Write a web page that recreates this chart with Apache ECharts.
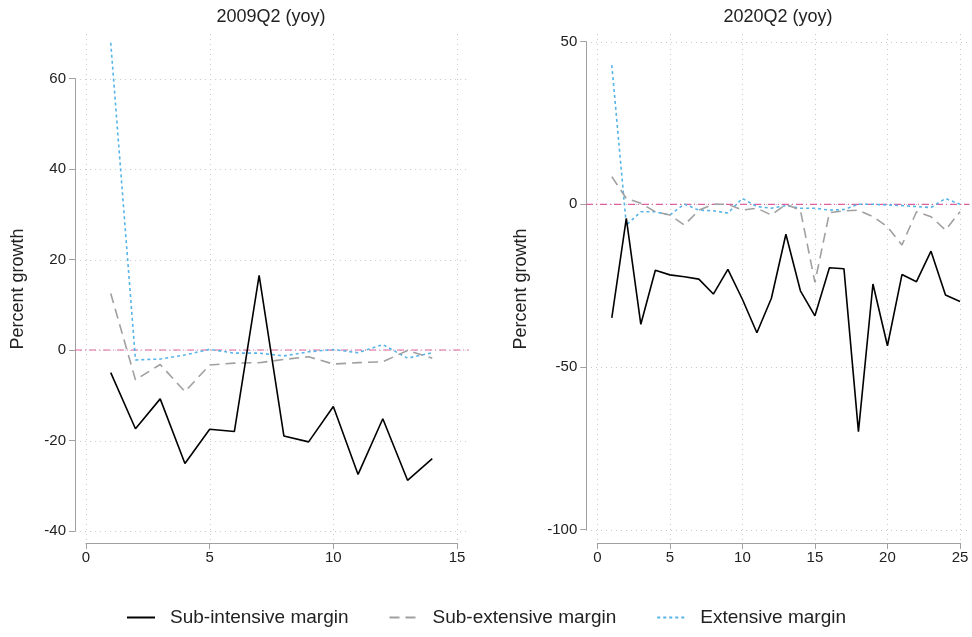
<!DOCTYPE html>
<html><head><meta charset="utf-8">
<script src="https://cdn.jsdelivr.net/npm/echarts@6/dist/echarts.min.js"></script>
<style>html,body{margin:0;padding:0;background:#fff}#c{width:972px;height:637px}</style>
</head><body><div id="c"></div>
<script>
// ---- data ----
const seriesNames = ['Sub-intensive margin', 'Sub-extensive margin', 'Extensive margin'];
const panelTitles = ['2009Q2 (yoy)', '2020Q2 (yoy)'];
const yAxisName = 'Percent growth';

const x2009 = [1,2,3,4,5,6,7,8,9,10,11,12,13,14];
const intensive2009 = [-5.0,-17.4,-10.8,-25.1,-17.5,-18.0,16.5,-19.0,-20.3,-12.5,-27.5,-15.2,-28.8,-24.0];
const subExtensive2009 = [12.5,-6.6,-3.2,-9.2,-3.3,-2.9,-2.8,-2.1,-1.5,-3.1,-2.8,-2.6,-0.1,-1.8];
const extensive2009 = [67.9,-2.2,-2.0,-1.1,0.15,-0.7,-0.7,-1.3,-0.4,0.1,-0.6,1.2,-1.8,-0.6];

const x2020 = [1,2,3,4,5,6,7,8,9,10,11,12,13,14,15,16,17,18,19,20,21,22,23,24,25];
const intensive2020 = [-34.9,-4.3,-36.9,-20.3,-21.7,-22.3,-23.0,-27.6,-20.0,-29.2,-39.5,-28.9,-9.2,-26.6,-34.3,-19.5,-19.8,-69.9,-24.5,-43.5,-21.6,-23.8,-14.4,-27.9,-29.9];
const subExtensive2020 = [8.5,1.8,0.3,-2.3,-3.3,-6.4,-1.8,0.0,0.0,-1.8,-1.2,-3.3,0.0,-1.8,-24.0,-2.6,-2.0,-1.8,-3.8,-6.9,-12.5,-2.3,-3.8,-7.9,-2.3];
const extensive2020 = [42.8,-6.4,-2.3,-2.3,-3.3,0.1,-1.8,-2.0,-2.7,1.8,-0.7,-1.2,-0.4,-1.2,-1.2,-1.8,-1.6,0.0,0.0,-0.2,-0.4,-0.7,-1.0,1.8,0.0];

const yTicks2009 = {min:-40, max:60, interval:20};
const yTicks2020 = {min:-100, max:50, interval:50};
const xTicks2009 = {min:0, max:15, interval:5};
const xTicks2020 = {min:0, max:25, interval:5};

// ---- styles ----
const FONT = '"Liberation Sans", Arial, Helvetica, sans-serif';
const axisGray = '#a0a0a0';
const gridColor = '#c8c8c8';
const colors = ['#000000', '#a0a0a0', '#56b4e9'];
const dashes = ['solid', [10, 6], [3, 3]];
const zeroColor = '#e0609e';
// plot-region extent beyond the axis ranges (in data units), per panel
const regionPad = [
  {x0: -0.44, x1: 15.48, y0: -42.0, y1: 70.05},
  {x0: -0.78, x1: 25.65, y0: -103.2, y1: 52.7}
];
const panelTicks = [[xTicks2009, yTicks2009], [xTicks2020, yTicks2020]];

const pair = (xs, ys) => xs.map((x, i) => [x, ys[i]]);
const ticksOf = t => { const a = []; for (let v = t.min; v <= t.max + 1e-9; v += t.interval) a.push(v); return a; };

function xAxisOf(idx, t, offset) {
  return {
    type: 'value', gridIndex: idx, min: t.min, max: t.max, interval: t.interval,
    offset: offset,
    axisLine: {show: true, onZero: false, lineStyle: {color: axisGray, width: 1}},
    axisTick: {show: true, length: 6, lineStyle: {color: axisGray}},
    axisLabel: {color: '#222', fontSize: 15, fontFamily: FONT, margin: 7},
    splitLine: {show: false}
  };
}
function yAxisOf(idx, t) {
  return {
    type: 'value', gridIndex: idx, min: t.min, max: t.max, interval: t.interval,
    offset: 11,
    axisLine: {show: true, onZero: false, lineStyle: {color: axisGray, width: 1}},
    axisTick: {show: true, length: 6, lineStyle: {color: axisGray}},
    axisLabel: {color: '#222', fontSize: 15, fontFamily: FONT, margin: 9},
    splitLine: {show: false}
  };
}
function lineSeries(k, idx, data) {
  return {
    name: seriesNames[k], type: 'line', xAxisIndex: idx, yAxisIndex: idx,
    data: data, symbol: 'none', showSymbol: false, animation: false, clip: false,
    lineStyle: {color: colors[k], width: 1.6, type: dashes[k]},
    itemStyle: {color: colors[k]},
    z: 5 - k
  };
}

const chart = echarts.init(document.getElementById('c'), null, {renderer: 'canvas'});
const baseGraphics = [
  {type: 'text', x: 18, y: 289, rotation: Math.PI / 2, z: 10,
   style: {text: yAxisName, fontSize: 18, fontFamily: FONT, fill: '#222', align: 'center', verticalAlign: 'middle'}},
  {type: 'text', x: 521, y: 289, rotation: Math.PI / 2, z: 10,
   style: {text: yAxisName, fontSize: 18, fontFamily: FONT, fill: '#222', align: 'center', verticalAlign: 'middle'}}
];
chart.setOption({
  backgroundColor: '#fff',
  animation: false,
  title: [
    {text: panelTitles[0], left: 266, top: 3, textAlign: 'center',
     textStyle: {fontSize: 18, fontWeight: 'normal', color: '#222', fontFamily: FONT}},
    {text: panelTitles[1], left: 773, top: 3, textAlign: 'center',
     textStyle: {fontSize: 18, fontWeight: 'normal', color: '#222', fontFamily: FONT}}
  ],
  graphic: baseGraphics,
  grid: [
    {left: 86, right: 515, top: 78.5, bottom: 106},
    {left: 597.3, right: 12, top: 41.7, bottom: 107.5}
  ],
  xAxis: [xAxisOf(0, xTicks2009, 12), xAxisOf(1, xTicks2020, 13.5)],
  yAxis: [yAxisOf(0, yTicks2009), yAxisOf(1, yTicks2020)],
  legend: {
    bottom: 5, left: 'center', itemWidth: 28, itemHeight: 12, itemGap: 40,
    data: seriesNames,
    itemStyle: {opacity: 0},
    textStyle: {fontSize: 19, color: '#222', fontFamily: FONT, padding: [0, 0, 0, 10]}
  },
  series: [
    lineSeries(0, 0, pair(x2009, intensive2009)),
    lineSeries(1, 0, pair(x2009, subExtensive2009)),
    lineSeries(2, 0, pair(x2009, extensive2009)),
    lineSeries(0, 1, pair(x2020, intensive2020)),
    lineSeries(1, 1, pair(x2020, subExtensive2020)),
    lineSeries(2, 1, pair(x2020, extensive2020))
  ]
});

// gridlines + zero reference line across the full plot region, placed via the chart's own scales
const extra = [];
panelTicks.forEach(([xt, yt], gi) => {
  const p = regionPad[gi];
  const px = (x, y) => chart.convertToPixel({gridIndex: gi}, [x, y]);
  const gridStyle = {stroke: gridColor, lineWidth: 1, lineDash: [1, 4]};
  ticksOf(xt).forEach(v => {
    const a = px(v, p.y0), b = px(v, p.y1);
    extra.push({type: 'line', z: 0, silent: true, shape: {x1: Math.round(a[0]) + 0.5, y1: a[1], x2: Math.round(b[0]) + 0.5, y2: b[1]}, style: gridStyle});
  });
  ticksOf(yt).forEach(v => {
    const a = px(p.x0, v), b = px(p.x1, v);
    extra.push({type: 'line', z: 0, silent: true, shape: {x1: a[0], y1: Math.round(a[1]) + 0.5, x2: b[0], y2: Math.round(b[1]) + 0.5}, style: gridStyle});
  });
  const a = px(p.x0, 0), b = px(p.x1, 0);
  extra.push({type: 'line', z: 1, silent: true, shape: {x1: a[0], y1: a[1], x2: b[0], y2: b[1]},
              style: {stroke: zeroColor, lineWidth: 1.2, lineDash: [7, 3, 1, 3]}});
});
chart.setOption({graphic: baseGraphics.concat(extra)});
</script></body></html>
